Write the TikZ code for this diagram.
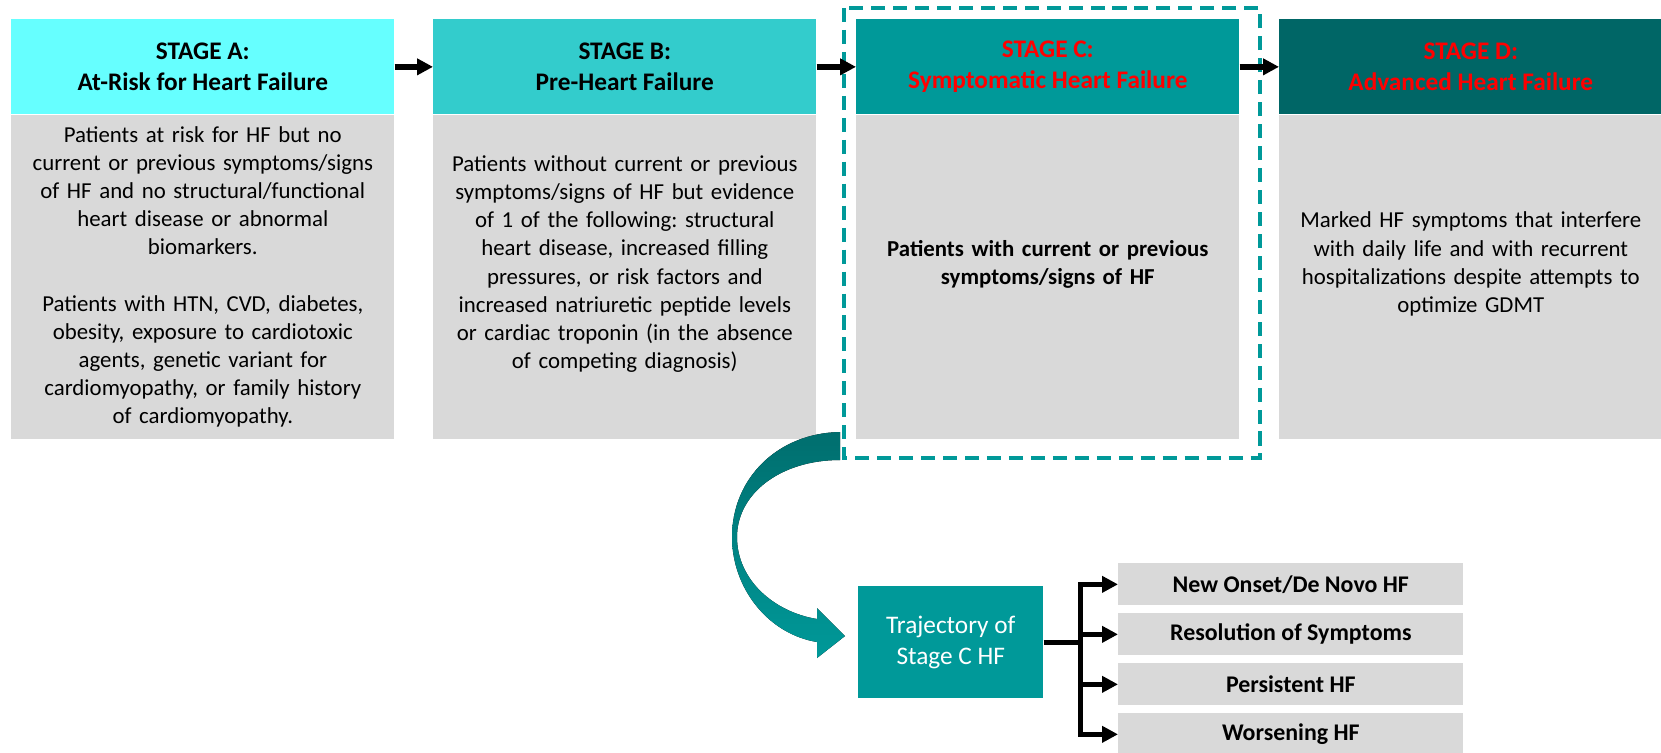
\documentclass[tikz,border=0pt]{standalone}
\usepackage{fontspec}
\setmainfont{Carlito}
\frenchspacing
\usetikzlibrary{arrows.meta,positioning}
\definecolor{stageA}{HTML}{66FFFF}
\definecolor{stageB}{HTML}{33CCCC}
\definecolor{stageC}{HTML}{009999}
\definecolor{stageD}{HTML}{006666}
\definecolor{boxgray}{HTML}{D9D9D9}
\definecolor{arrowdark}{HTML}{006E6E}
\definecolor{hfred}{HTML}{FF0000}
\tikzset{
  hdr/.style={anchor=north west, minimum width=7.66cm, minimum height=1.9cm, inner sep=0pt,
    align=center, font=\fontsize{14.4}{17.6}\selectfont\bfseries},
  bodybox/.style={anchor=north west, fill=boxgray, minimum width=7.66cm, minimum height=6.48cm, inner sep=0pt},
  bodytxt/.style={text width=7.5cm, align=center, inner sep=0pt, font=\fontsize{13}{16}\selectfont},
  stagearrow/.style={line width=3.2pt, -{Triangle[length=9pt,width=9pt]}},
  branch/.style={line width=2.8pt},
  outbox/.style={fill=boxgray, minimum width=6.9cm, minimum height=0.84cm, inner sep=0pt,
    font=\fontsize{13.6}{16}\selectfont\bfseries},
  dashbox/.style={draw=stageC, line width=2.6pt, dash pattern=on 8pt off 4.5pt},
}
\begin{document}
\begin{tikzpicture}[x=0.02cm,y=-0.02cm]
\useasboundingbox (0,0) rectangle (1661,752);
% stage headers
\node[hdr, fill=stageA] (hdrA) at (11,19) {STAGE A:\\At-Risk for Heart Failure};
\node[hdr, fill=stageB] (hdrB) at (433,19) {STAGE B:\\Pre-Heart Failure};
\node[hdr, fill=stageC, text=hfred] (hdrC) at (856,19) {STAGE C:\\Symptomatic Heart Failure};
\node[hdr, fill=stageD, text=hfred] (hdrD) at (1279,19) {STAGE D:\\Advanced Heart Failure};
% stage bodies
\foreach \s in {A,B,C,D}
  \node[bodybox] (body\s) at (hdr\s.south west) {};
\node[bodytxt] (txtA) at (bodyA.center) {Patients at risk for HF but no\\current or previous symptoms/signs\\of HF and no structural/functional\\heart disease or abnormal\\biomarkers.\\[16pt]Patients with HTN, CVD, diabetes,\\obesity, exposure to cardiotoxic\\agents, genetic variant for\\cardiomyopathy, or family history\\of cardiomyopathy.};
\node[bodytxt] (txtB) at ([yshift=0.26cm]bodyB.center) {Patients without current or previous\\symptoms/signs of HF but evidence\\of 1 of the following: structural\\heart disease, increased filling\\pressures, or risk factors and\\increased natriuretic peptide levels\\or cardiac troponin (in the absence\\of competing diagnosis)};
\node[bodytxt, font=\fontsize{13}{16}\selectfont\bfseries] (txtC) at ([yshift=0.26cm]bodyC.center) {Patients with current or previous\\symptoms/signs of HF};
\node[bodytxt] (txtD) at ([yshift=0.26cm]bodyD.center) {Marked HF symptoms that interfere\\with daily life and with recurrent\\hospitalizations despite attempts to\\optimize GDMT};
% focus on stage C
\draw[dashbox] (844,8) rectangle (1260,458);
\draw[stagearrow] (hdrA.east) -- (hdrB.west);
\draw[stagearrow] (hdrB.east) -- (hdrC.west);
\draw[stagearrow] (hdrC.east) -- (hdrD.west);
% curved arrow down to trajectory
\fill[top color=arrowdark, bottom color=stageC] (840,432) .. controls (778,433) and (732,478) .. (732,537)
  .. controls (732,588) and (768,634) .. (817,642) -- (817,658) -- (845,636) -- (817,608) -- (817,619)
  .. controls (774,612) and (737,580) .. (737,537) .. controls (737,494) and (780,460) .. (840,460) -- cycle;
% trajectory of stage C
\node[anchor=north west, fill=stageC, text=white, minimum width=3.7cm, minimum height=2.24cm, inner sep=0pt,
  align=center, font=\fontsize{14.4}{17.6}\selectfont] (traj) at (858,586) {Trajectory of\\Stage C HF};
\node[outbox, anchor=north west] (onset) at (1118,563) {New Onset/De Novo HF};
\node[outbox, below=0.146cm of onset] (resol) {Resolution of Symptoms};
\node[outbox, below=0.146cm of resol] (persist) {Persistent HF};
\node[outbox, below=0.146cm of persist] (worse) {Worsening HF};
\coordinate (fork) at ([xshift=0.74cm]traj.east);
\draw[branch] (traj.east) -- (fork);
\foreach \o in {onset,resol,persist,worse}
  \draw[branch, -{Triangle[length=9pt,width=9pt]}] (fork) |- (\o.west);
\end{tikzpicture}
\end{document}
